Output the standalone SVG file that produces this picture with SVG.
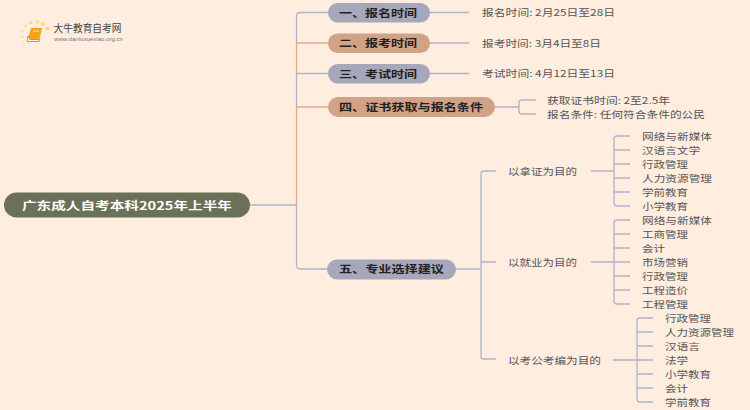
<svg xmlns="http://www.w3.org/2000/svg" width="750" height="410" viewBox="0 0 750 410">
<style>
text{font-family:"Noto Sans CJK SC","Liberation Sans",sans-serif;dominant-baseline:central}
.l{fill:none;stroke:#b0b2ca;stroke-width:1.3}
.o{fill:none;stroke:#e0ab8c;stroke-width:1.3}
.p{fill:#a7a7bb}.q{fill:#d1a286}
.b{font-size:10.500px;font-weight:700;fill:#222}
.t{font-size:9.500px;fill:#555}
</style>
<rect width="750" height="410" fill="#ffeee0"/>
<g id="logo">
<g fill="#ffd877"><circle cx="47.500" cy="28.500" r="2"/><circle cx="43" cy="24" r="1.800"/><circle cx="37.500" cy="22" r="1.800"/><circle cx="31" cy="22.500" r="1.700"/><circle cx="26" cy="26" r="1.300"/><circle cx="22.500" cy="31" r="1.100"/><circle cx="22" cy="37" r="1"/><circle cx="23.500" cy="42.500" r=".8"/></g>
<path d="M31 28h11l-3 13.500h-12z" fill="#f7a11c"/><path d="M28 36l-1 5.500h12l.8-2h-10z" fill="#fff" stroke="#ef8c22"/><path d="M33 31h6" stroke="#ffe3a8"/>
<text x="53.500" y="27" font-size="10" fill="#444" textLength="68" lengthAdjust="spacingAndGlyphs">大牛教育自考网</text>
<path d="M54 33.500h54" stroke="#ddd" stroke-width=".7"/>
<text x="54" y="39" font-size="6" fill="#777" style="font-family:'Liberation Sans',sans-serif" textLength="69" lengthAdjust="spacingAndGlyphs">www.daniuxuexiao.org.cn</text>
</g>
<g id="connectors">
<path class="l" d="M250 205H296.500"/>
<path class="l" d="M328 12.500H300Q296.500 12.500 296.500 16V43"/>
<path class="o" d="M328 43H296.500V73.500"/>
<path class="l" d="M328 73.500H296.500V107"/>
<path class="o" d="M328 107H296.500V205"/>
<path class="l" d="M327 269H300Q296.500 269 296.500 265V205"/>
<path class="l" d="M430 12.500H469M430 43H469M430 73.500H469"/>
<path class="l" d="M495 107H519M536 100H522Q519 100 519 103V111Q519 114 522 114H536"/>
<path class="l" d="M456 269H480M496 171H484Q481 171 481 174V356Q481 359 484 359H496M481 262H496"/>
<path class="l" d="M591 171H614M630 136H617Q614 136 614 139V203Q614 206 617 206H630M614 150H630M614 164H630M614 178H630M614 192H630"/>
<path class="l" d="M591 262H614M630 220H617Q614 220 614 223V301Q614 304 617 304H630M614 234H630M614 248H630M614 262H630M614 276H630M614 290H630"/>
<path class="l" d="M613 360H637M653 318H640Q637 318 637 321V399Q637 402 640 402H653M637 332H653M637 346H653M637 360H653M637 374H653M637 388H653"/>
</g>
<g id="root"><rect x="4" y="192.500" width="246" height="25" rx="12.500" fill="#6b7059"/><text x="22" y="204.500" font-size="11" font-weight="700" fill="#fff" textLength="210" lengthAdjust="spacingAndGlyphs">广东成人自考本科2025年上半年</text></g>
<g id="n1"><rect class="p" x="328" y="3" width="102" height="19.500" rx="9.750"/><text class="b" x="339" y="12" textLength="78" lengthAdjust="spacingAndGlyphs">一、报名时间</text></g>
<g id="n2"><rect class="q" x="328" y="33.500" width="102" height="19.500" rx="9.750"/><text class="b" x="339" y="42.500" textLength="78" lengthAdjust="spacingAndGlyphs">二、报考时间</text></g>
<g id="n3"><rect class="p" x="328" y="64" width="102" height="19.500" rx="9.750"/><text class="b" x="339" y="73" textLength="78" lengthAdjust="spacingAndGlyphs">三、考试时间</text></g>
<g id="n4"><rect class="q" x="328" y="97" width="167" height="20" rx="10"/><text class="b" x="339" y="106.500" textLength="144" lengthAdjust="spacingAndGlyphs">四、证书获取与报名条件</text></g>
<g id="n5"><rect class="p" x="327" y="259.500" width="129" height="20" rx="10"/><text class="b" x="339" y="268.500" textLength="105" lengthAdjust="spacingAndGlyphs">五、专业选择建议</text></g>
<g id="leaves">
<text class="t" x="482" y="12" textLength="133" lengthAdjust="spacingAndGlyphs">报名时间: 2月25日至28日</text>
<text class="t" x="482" y="42.500" textLength="119" lengthAdjust="spacingAndGlyphs">报考时间: 3月4日至8日</text>
<text class="t" x="482" y="73" textLength="133" lengthAdjust="spacingAndGlyphs">考试时间: 4月12日至13日</text>
<text class="t" x="547" y="99.500" textLength="123" lengthAdjust="spacingAndGlyphs">获取证书时间: 2至2.5年</text>
<text class="t" x="547" y="113.500" textLength="158" lengthAdjust="spacingAndGlyphs">报名条件: 任何符合条件的公民</text>
<text class="t" x="508" y="170.500" textLength="69" lengthAdjust="spacingAndGlyphs">以拿证为目的</text>
<text class="t" x="508" y="261.500" textLength="69" lengthAdjust="spacingAndGlyphs">以就业为目的</text>
<text class="t" x="508" y="359.500" textLength="93" lengthAdjust="spacingAndGlyphs">以考公考编为目的</text>
<text class="t" x="642" y="135.500" textLength="70" lengthAdjust="spacingAndGlyphs">网络与新媒体</text>
<text class="t" x="642" y="149.500" textLength="58" lengthAdjust="spacingAndGlyphs">汉语言文学</text>
<text class="t" x="642" y="163.500" textLength="46" lengthAdjust="spacingAndGlyphs">行政管理</text>
<text class="t" x="642" y="177.500" textLength="70" lengthAdjust="spacingAndGlyphs">人力资源管理</text>
<text class="t" x="642" y="191.500" textLength="46" lengthAdjust="spacingAndGlyphs">学前教育</text>
<text class="t" x="642" y="205.500" textLength="46" lengthAdjust="spacingAndGlyphs">小学教育</text>
<text class="t" x="642" y="219.500" textLength="70" lengthAdjust="spacingAndGlyphs">网络与新媒体</text>
<text class="t" x="642" y="233.500" textLength="46" lengthAdjust="spacingAndGlyphs">工商管理</text>
<text class="t" x="642" y="247.500" textLength="23" lengthAdjust="spacingAndGlyphs">会计</text>
<text class="t" x="642" y="261.500" textLength="46" lengthAdjust="spacingAndGlyphs">市场营销</text>
<text class="t" x="642" y="275.500" textLength="46" lengthAdjust="spacingAndGlyphs">行政管理</text>
<text class="t" x="642" y="289.500" textLength="46" lengthAdjust="spacingAndGlyphs">工程造价</text>
<text class="t" x="642" y="303.500" textLength="46" lengthAdjust="spacingAndGlyphs">工程管理</text>
<text class="t" x="665" y="317.500" textLength="46" lengthAdjust="spacingAndGlyphs">行政管理</text>
<text class="t" x="665" y="331.500" textLength="69" lengthAdjust="spacingAndGlyphs">人力资源管理</text>
<text class="t" x="665" y="345.500" textLength="35" lengthAdjust="spacingAndGlyphs">汉语言</text>
<text class="t" x="665" y="359.500" textLength="23" lengthAdjust="spacingAndGlyphs">法学</text>
<text class="t" x="665" y="373.500" textLength="46" lengthAdjust="spacingAndGlyphs">小学教育</text>
<text class="t" x="665" y="387.500" textLength="23" lengthAdjust="spacingAndGlyphs">会计</text>
<text class="t" x="665" y="401.500" textLength="46" lengthAdjust="spacingAndGlyphs">学前教育</text>
</g>
</svg>
